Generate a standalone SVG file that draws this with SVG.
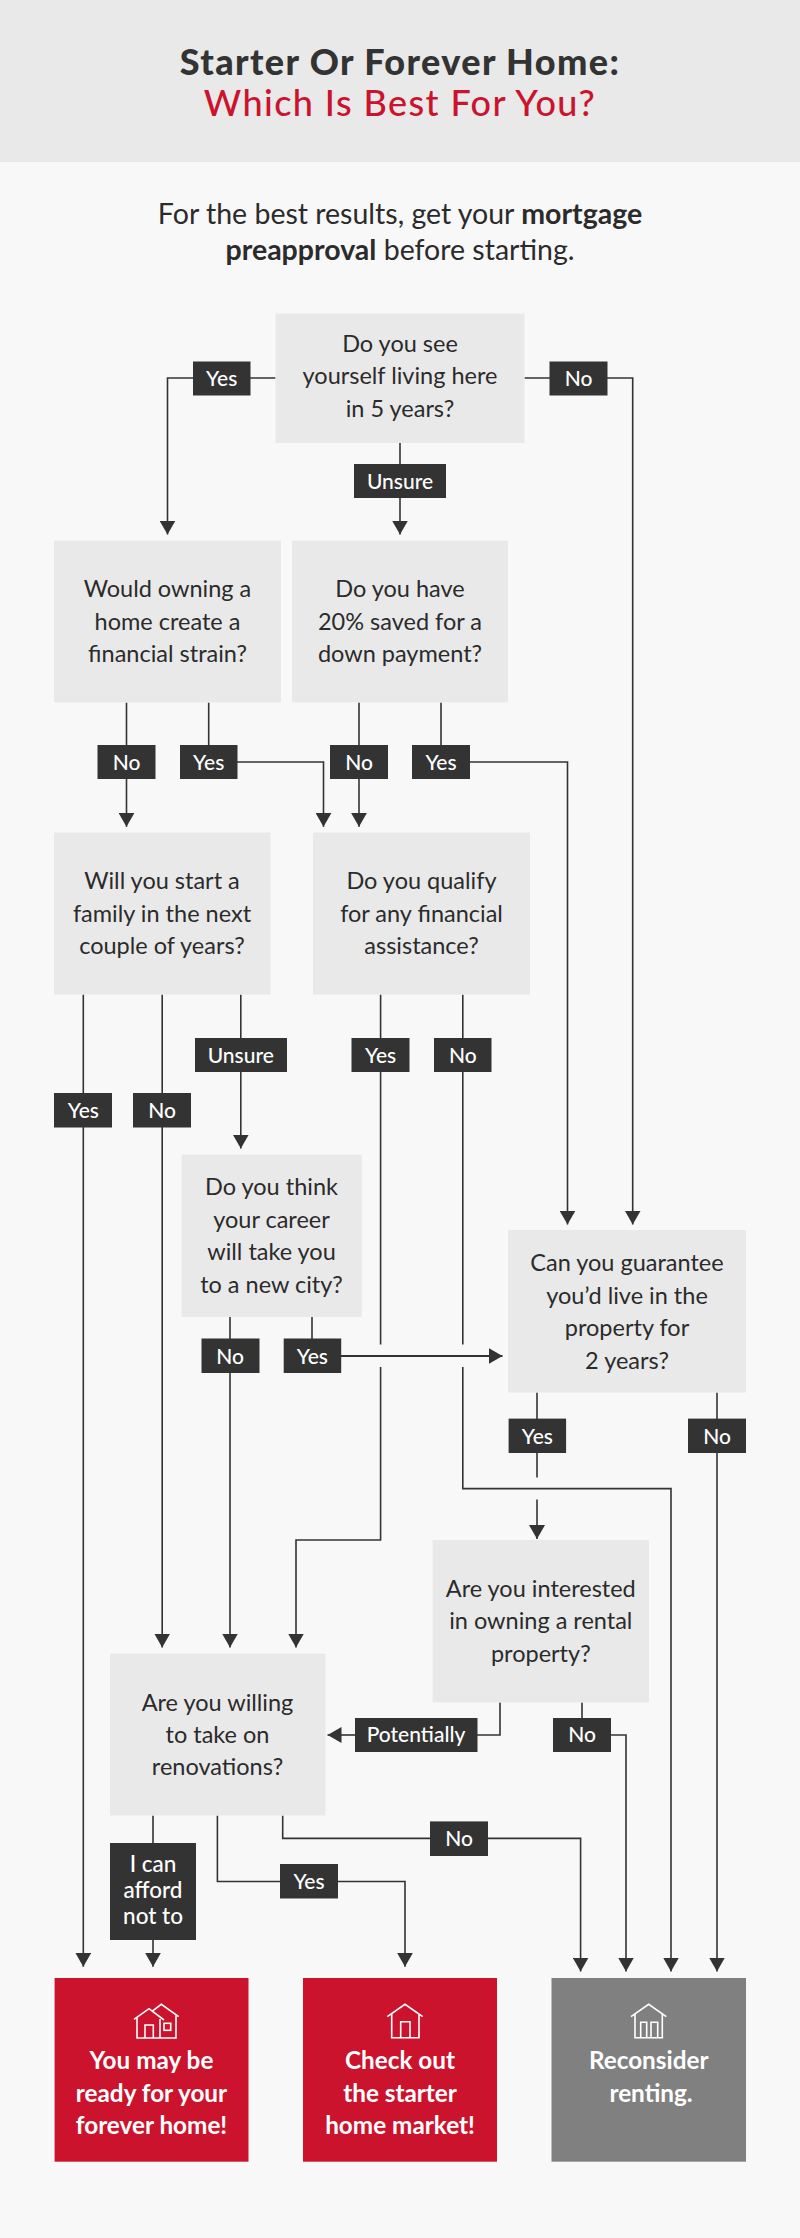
<svg xmlns="http://www.w3.org/2000/svg" width="800" height="2238" viewBox="0 0 800 2238">
<defs>
<marker id="arrow" markerWidth="14" markerHeight="16" refX="14" refY="8" orient="auto" markerUnits="userSpaceOnUse"><path d="M0 0L14 8L0 16z" fill="#333"/></marker>
</defs>
<style>
text{font-family:"Lato","Liberation Sans",sans-serif;text-anchor:middle}
.q{fill:#e9e9e9}
.t{font-size:23.5px;fill:#2b2b2b}
.l{fill:#333}
.lt{font-size:21px;fill:#fff;font-weight:500}
.c{fill:none;stroke:#333;stroke-width:1.6}
.a{marker-end:url(#arrow)}
.e{font-size:24.3px;font-weight:700;fill:#fff}
.i{fill:none;stroke:#fff;stroke-width:1.6}
</style>
<rect width="800" height="2238" fill="#f8f8f8"/>
<g id="header">
<rect width="800" height="162" fill="#e9e9e9"/>
<text x="400" y="75" font-size="36" letter-spacing="1.4" font-weight="900" fill="#333">Starter Or Forever Home:</text>
<text x="400" y="116" font-size="36" letter-spacing="1.4" font-weight="500" fill="#cb132d">Which Is Best For You?</text>
</g>
<g id="intro">
<text x="400" y="224" font-size="28.5" fill="#2b2b2b">For the best results, get your <tspan font-weight="700">mortgage</tspan></text>
<text x="400" y="260" font-size="28.5" fill="#2b2b2b"><tspan font-weight="700">preapproval</tspan> before starting.</text>
</g>
<g id="connectors">
<path class="c" d="M275.5 378H193"/>
<path class="c a" d="M193 378H167.5V534.6"/>
<path class="c" d="M524.5 378H607"/>
<path class="c a" d="M607 378H632.7V1224.6"/>
<path class="c a" d="M400 443V534.6"/>
<path class="c a" d="M126.5 702.5V826.8"/>
<path class="c" d="M208.7 702.5V745"/>
<path class="c a" d="M237 762H323.5V826.8"/>
<path class="c a" d="M359 702.5V826.8"/>
<path class="c" d="M441 702.5V745"/>
<path class="c a" d="M470 762H567.5V1224.6"/>
<path class="c a" d="M83.3 994.6V1966.7"/>
<path class="c a" d="M162.2 994.6V1647.5"/>
<path class="c a" d="M240.8 994.6V1148.6"/>
<path class="c" d="M380.6 994.6V1344.6"/>
<path class="c a" d="M380.6 1367V1540H296V1647.5"/>
<path class="c" d="M462.8 994.6V1344.6"/>
<path class="c a" d="M462.8 1367V1488.6H671V1971.5"/>
<path class="c a" d="M230 1317V1647.5"/>
<path class="c" d="M312 1317V1339"/>
<path class="c a" style="stroke-width:2.2" d="M341 1356H502.5"/>
<path class="c" d="M537 1392.5V1477.5"/>
<path class="c a" d="M537 1499.6V1539"/>
<path class="c a" d="M717 1392.5V1971.5"/>
<path class="c" d="M500 1702.4V1735H477"/>
<path class="c a" d="M355 1735H327.5"/>
<path class="c" d="M582 1702.4V1718"/>
<path class="c a" d="M611 1735H626V1971.5"/>
<path class="c a" d="M153 1815.5V1966.7"/>
<path class="c a" d="M217.4 1815.5V1881.5H405V1966.7"/>
<path class="c a" d="M282.7 1815.5V1838.4H580.6V1971.5"/>
</g>
<g id="n1"><rect class="q" x="275.5" y="313.5" width="249" height="129.5"/><text class="t" x="400" y="351.5">Do you see</text><text class="t" x="400" y="384">yourself living here</text><text class="t" x="400" y="416.5">in 5 years?</text></g>
<g id="n2"><rect class="q" x="54" y="540.7" width="227" height="161.8"/><text class="t" x="167.5" y="597">Would owning a</text><text class="t" x="167.5" y="629.5">home create a</text><text class="t" x="167.5" y="662">financial strain?</text></g>
<g id="n3"><rect class="q" x="292" y="540.7" width="216" height="161.8"/><text class="t" x="400" y="597">Do you have</text><text class="t" x="400" y="629.5">20% saved for a</text><text class="t" x="400" y="662">down payment?</text></g>
<g id="n4"><rect class="q" x="54" y="832.5" width="216.5" height="162.1"/><text class="t" x="162" y="889">Will you start a</text><text class="t" x="162" y="921.5">family in the next</text><text class="t" x="162" y="954">couple of years?</text></g>
<g id="n5"><rect class="q" x="313" y="832.5" width="217" height="162.1"/><text class="t" x="421.5" y="889">Do you qualify</text><text class="t" x="421.5" y="921.5">for any financial</text><text class="t" x="421.5" y="954">assistance?</text></g>
<g id="n6"><rect class="q" x="181.6" y="1154.6" width="180.1" height="162.4"/><text class="t" x="271.5" y="1195">Do you think</text><text class="t" x="271.5" y="1228">your career</text><text class="t" x="271.5" y="1260">will take you</text><text class="t" x="271.5" y="1293">to a new city?</text></g>
<g id="n7"><rect class="q" x="508" y="1230" width="238" height="162.5"/><text class="t" x="627" y="1271">Can you guarantee</text><text class="t" x="627" y="1303.5">you’d live in the</text><text class="t" x="627" y="1336">property for</text><text class="t" x="627" y="1368.6">2 years?</text></g>
<g id="n8"><rect class="q" x="432.6" y="1540" width="216.4" height="162.4"/><text class="t" x="540.8" y="1597">Are you interested</text><text class="t" x="540.8" y="1629">in owning a rental</text><text class="t" x="540.8" y="1661.5">property?</text></g>
<g id="n9"><rect class="q" x="110" y="1653.6" width="215.5" height="161.9"/><text class="t" x="217.5" y="1710.5">Are you willing</text><text class="t" x="217.5" y="1743">to take on</text><text class="t" x="217.5" y="1775.4">renovations?</text></g>
<g id="labels">
<g id="l1"><rect class="l" x="193" y="361.5" width="57.5" height="34"/><text class="lt" x="221.7" y="386">Yes</text></g>
<g id="l2"><rect class="l" x="549.5" y="361.5" width="58" height="34"/><text class="lt" x="578.5" y="386">No</text></g>
<g id="l3"><rect class="l" x="354" y="464" width="92" height="34"/><text class="lt" x="400" y="488.5">Unsure</text></g>
<g id="l4"><rect class="l" x="97.5" y="745" width="58" height="34"/><text class="lt" x="126.5" y="770">No</text></g>
<g id="l5"><rect class="l" x="180" y="745" width="57.5" height="34"/><text class="lt" x="208.7" y="770">Yes</text></g>
<g id="l6"><rect class="l" x="330" y="745" width="58" height="34"/><text class="lt" x="359" y="770">No</text></g>
<g id="l7"><rect class="l" x="412" y="745" width="58" height="34"/><text class="lt" x="441" y="770">Yes</text></g>
<g id="l8"><rect class="l" x="195" y="1038" width="92" height="34"/><text class="lt" x="240.8" y="1063">Unsure</text></g>
<g id="l9"><rect class="l" x="351.5" y="1038" width="58" height="34"/><text class="lt" x="380.6" y="1063">Yes</text></g>
<g id="l10"><rect class="l" x="434" y="1038" width="57.5" height="34"/><text class="lt" x="462.8" y="1063">No</text></g>
<g id="l11"><rect class="l" x="54" y="1093" width="58" height="34.5"/><text class="lt" x="83.3" y="1118">Yes</text></g>
<g id="l12"><rect class="l" x="133" y="1093" width="58" height="34.5"/><text class="lt" x="162.2" y="1118">No</text></g>
<g id="l13"><rect class="l" x="201.5" y="1338.5" width="58" height="34.5"/><text class="lt" x="230" y="1364">No</text></g>
<g id="l14"><rect class="l" x="283.7" y="1338.5" width="57.5" height="34.5"/><text class="lt" x="312.4" y="1364">Yes</text></g>
<g id="l15"><rect class="l" x="508.6" y="1418.6" width="57.5" height="34.4"/><text class="lt" x="537.3" y="1444">Yes</text></g>
<g id="l16"><rect class="l" x="688" y="1418.6" width="58" height="34.4"/><text class="lt" x="717" y="1444">No</text></g>
<g id="l17"><rect class="l" x="355" y="1718" width="122.5" height="34"/><text class="lt" x="416" y="1742">Potentially</text></g>
<g id="l18"><rect class="l" x="553" y="1718" width="58" height="34"/><text class="lt" x="582" y="1742">No</text></g>
<g id="l19"><rect class="l" x="430" y="1821.4" width="58" height="34.6"/><text class="lt" x="459" y="1846">No</text></g>
<g id="l20"><rect class="l" x="280" y="1864" width="58" height="34.5"/><text class="lt" x="309" y="1889">Yes</text></g>
<g id="l21"><rect class="l" x="110" y="1843" width="86" height="97"/><text class="lt" style="font-size:22.5px" x="153" y="1872">I can</text><text class="lt" style="font-size:22.5px" x="153" y="1897.7">afford</text><text class="lt" style="font-size:22.5px" x="153" y="1923.5">not to</text></g>
</g>
<g id="end1"><rect x="54.6" y="1978" width="193.9" height="183.7" fill="#cb132d"/>
<path class="i" d="M134 2019.3L149 2008.7L164 2020M151.7 2011.7L161.3 2004.3L178.7 2016.7M137 2017V2038H176V2014M160 2019V2038M145 2038V2025H153.3V2038"/><rect class="i" x="164" y="2023.3" width="6.7" height="7"/>
<text class="e" x="151.5" y="2069">You may be</text><text class="e" x="151.5" y="2101.6">ready for your</text><text class="e" x="151.5" y="2134">forever home!</text></g>
<g id="end2"><rect x="303" y="1978" width="194" height="183.7" fill="#cb132d"/>
<path class="i" d="M387.3 2016.7L405 2004.3L422.7 2016.7M391.7 2014V2037.7H419V2014M400.7 2037.7V2021.7H410V2037.7"/>
<text class="e" x="400" y="2069">Check out</text><text class="e" x="400" y="2101.6">the starter</text><text class="e" x="400" y="2134">home market!</text></g>
<g id="end3"><rect x="551.5" y="1978" width="194.5" height="183.7" fill="#808080"/>
<path class="i" d="M631 2016.7L648.7 2004.3L666.3 2016.7M635 2014V2037.7H662.3V2014M640.7 2037.7V2022.3H646.7V2037.7M651 2037.7V2022.3H657.7V2037.7"/>
<text class="e" x="648.7" y="2069">Reconsider</text><text class="e" x="651" y="2101.6">renting.</text></g>
</svg>
